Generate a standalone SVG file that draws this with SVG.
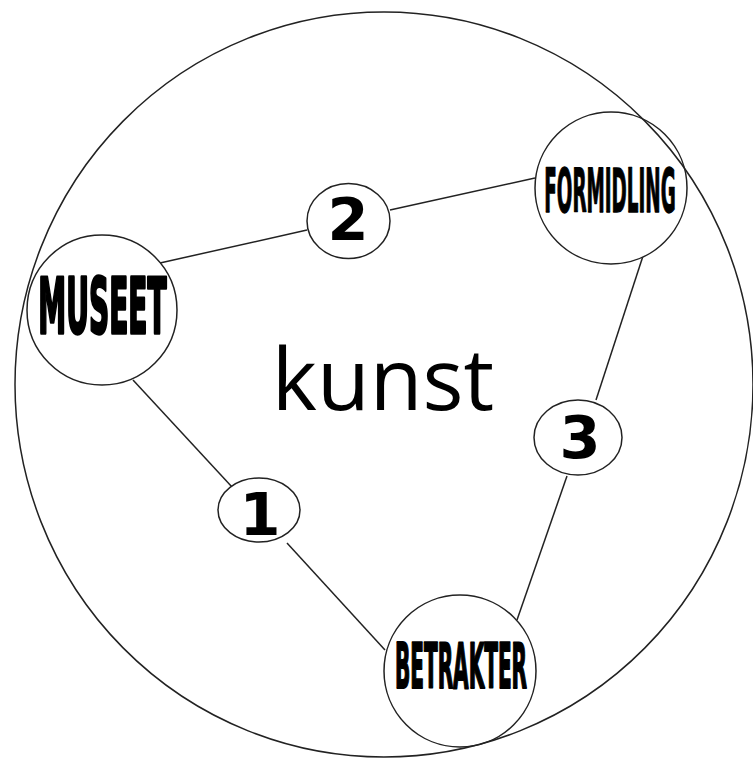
<svg xmlns="http://www.w3.org/2000/svg" width="753" height="758" viewBox="0 0 753 758">
<style>
.c{fill:#fff;stroke:#222;stroke-width:1.5}
.l{stroke:#222;stroke-width:1.5;fill:none}
.big{font-family:"DejaVu Sans Condensed","DejaVu Sans",sans-serif;font-weight:bold;fill:#000;stroke:#000;text-anchor:middle;vector-effect:non-scaling-stroke;stroke-linejoin:round}
.num{font-family:"DejaVu Sans",sans-serif;font-weight:bold;font-size:59px;fill:#000;text-anchor:middle}
</style>
<rect width="753" height="758" fill="#fff"/>
<text id="kunst" x="383" y="410" font-family="'Open Sans','Noto Sans',sans-serif" font-size="86" fill="#000" text-anchor="middle">kunst</text>
<g id="connectors">
<line class="l" x1="160" y1="263" x2="307" y2="230"/>
<line class="l" x1="390" y1="210" x2="535" y2="178"/>
<line class="l" x1="643" y1="256" x2="596" y2="400"/>
<line class="l" x1="567" y1="476" x2="517" y2="620"/>
<line class="l" x1="133" y1="380" x2="232" y2="487"/>
<line class="l" x1="287" y1="543" x2="385" y2="650"/>
</g>
<g id="museet">
<circle class="c" cx="102" cy="310" r="75"/>
<text class="big" transform="translate(102.5,333) scale(0.41,1)" font-size="76" stroke-width="2.5">MUSEET</text>
</g>
<g id="formidling">
<circle class="c" cx="611" cy="188" r="76"/>
<text class="big" transform="translate(610,212) scale(0.34,1)" font-size="60" stroke-width="1">FORMIDLING</text>
</g>
<g id="betrakter">
<circle class="c" cx="460" cy="671" r="76"/>
<text class="big" transform="translate(461,688) scale(0.36,1)" font-size="62" stroke-width="1.5">BETRAKTER</text>
</g>
<g id="n2">
<ellipse class="c" cx="348.5" cy="221" rx="41.5" ry="37.5"/>
<text class="num" x="348" y="240">2</text>
</g>
<g id="n1">
<ellipse class="c" cx="259" cy="510" rx="41" ry="32"/>
<text class="num" x="260" y="535">1</text>
</g>
<g id="n3">
<ellipse class="c" cx="578" cy="437.5" rx="44" ry="37.5"/>
<text class="num" x="580" y="458">3</text>
</g>
<ellipse id="outer" cx="384" cy="384.5" rx="369" ry="372.5" fill="none" stroke="#222" stroke-width="1.5"/>
</svg>
